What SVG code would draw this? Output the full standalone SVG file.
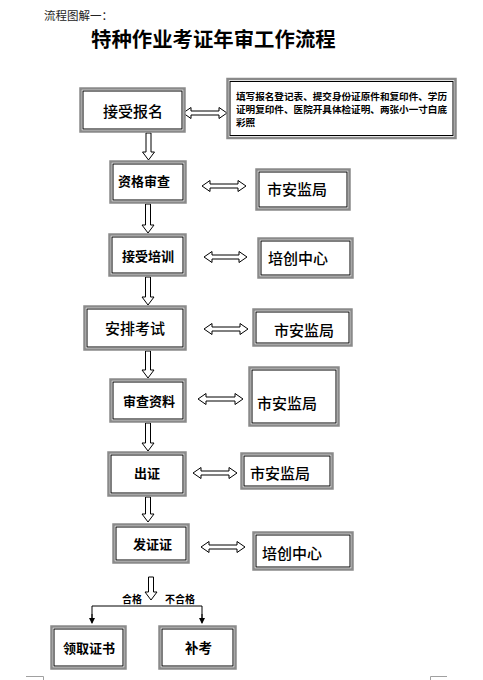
<svg xmlns="http://www.w3.org/2000/svg" width="483" height="680" viewBox="0 0 483 680">
<style>
text{font-family:"Noto Sans CJK SC","Noto Sans",sans-serif;fill:#000;dominant-baseline:central}
.b{font-weight:700;font-size:13px}
.n{font-size:15px;font-weight:500}
.box .o{fill:#fff;stroke:#8a8a8a;stroke-width:2.5}
.box .i{fill:none;stroke:#000;stroke-width:1}
.arr{fill:#fff;stroke:#000;stroke-width:1;stroke-linejoin:miter}
.ln{fill:none;stroke:#000;stroke-width:1}
.mark{fill:none;stroke:#a0a0a0;stroke-width:1}
</style>
<defs>
<marker id="ah" viewBox="0 0 6 6" refX="5" refY="3" markerWidth="6" markerHeight="6" orient="auto" markerUnits="userSpaceOnUse">
<path d="M0,0 L6,3 L0,6 Z" fill="#000"/>
</marker>
</defs>

<text x="44" y="15" style="font-size:11.5px;fill:#222">流程图解一：</text>
<text x="91" y="38" style="font-size:20.4px;font-weight:700">特种作业考证年审工作流程</text>

<g id="connectors">
<polygon class="arr" points="146,133 151,133 151,152 154.5,152 148.5,160 142.5,152 146,152"/>
<polygon class="arr" points="145.5,204 150.5,204 150.5,225 154,225 148,233 142,225 145.5,225"/>
<polygon class="arr" points="145.5,277 150.5,277 150.5,297 154,297 148,305 142,297 145.5,297"/>
<polygon class="arr" points="145.5,351 150.5,351 150.5,370 154,370 148,378 142,370 145.5,370"/>
<polygon class="arr" points="145.5,423 150.5,423 150.5,443 154,443 148,451 142,443 145.5,443"/>
<polygon class="arr" points="145.5,497 150.5,497 150.5,514 154,514 148,522 142,514 145.5,514"/>
<polygon class="arr" points="148.5,577 153.5,577 153.5,592 157,592 151,600 145,592 148.5,592"/>

<polygon class="arr" points="183,113 191,107.5 191,111 219,111 219,107.5 227,113 219,118.5 219,115 191,115 191,118.5"/>
<polygon class="arr" points="202,186 210,180.5 210,184 238,184 238,180.5 246,186 238,191.5 238,188 210,188 210,191.5"/>
<polygon class="arr" points="204,257 212,251.5 212,255 239,255 239,251.5 247,257 239,262.5 239,259 212,259 212,262.5"/>
<polygon class="arr" points="204,329 212,323.5 212,327 240,327 240,323.5 248,329 240,334.5 240,331 212,331 212,334.5"/>
<polygon class="arr" points="198,399 206,393.5 206,397 235,397 235,393.5 243,399 235,404.5 235,401 206,401 206,404.5"/>
<polygon class="arr" points="193,473 201,467.5 201,471 229,471 229,467.5 237,473 229,478.5 229,475 201,475 201,478.5"/>
<polygon class="arr" points="201,547 209,541.5 209,545 237,545 237,541.5 245,547 237,552.5 237,549 209,549 209,552.5"/>

<path class="ln" d="M92,622 V606 H202 V622"/>
<path class="ln" d="M92,614 V623" marker-end="url(#ah)"/>
<path class="ln" d="M202,614 V623" marker-end="url(#ah)"/>
</g>

<g id="n1" class="box"><rect class="o" x="80.5" y="88.5" width="104" height="43"/><rect class="i" x="83" y="91" width="99" height="38"/><text class="n" x="103" y="110">接受报名</text></g>
<g id="info" class="box"><rect class="o" x="227.5" y="79" width="228" height="59"/><rect class="i" x="230" y="81.5" width="223" height="54"/>
<text x="236" y="96" style="font-size:9.6px;font-weight:700">填写报名登记表、提交身份证原件和复印件、学历</text>
<text x="236" y="109" style="font-size:9.6px;font-weight:700">证明复印件、医院开具体检证明、两张小一寸白底</text>
<text x="236" y="122" style="font-size:9.6px;font-weight:700">彩照</text></g>

<g id="n2" class="box"><rect class="o" x="110.5" y="161.5" width="75" height="41"/><rect class="i" x="113" y="164" width="70" height="36"/><text class="b" x="118" y="180">资格审查</text></g>
<g id="r2" class="box"><rect class="o" x="256.5" y="169.5" width="93" height="40"/><rect class="i" x="259" y="172" width="88" height="35"/><text class="n" x="267" y="188">市安监局</text></g>

<g id="n3" class="box"><rect class="o" x="109.5" y="234.5" width="76" height="41"/><rect class="i" x="112" y="237" width="71" height="36"/><text class="b" x="122" y="255">接受培训</text></g>
<g id="r3" class="box"><rect class="o" x="258.5" y="238.5" width="94" height="39"/><rect class="i" x="261" y="241" width="89" height="34"/><text class="n" x="268" y="257">培创中心</text></g>

<g id="n4" class="box"><rect class="o" x="84.5" y="306.5" width="101" height="43"/><rect class="i" x="87" y="309" width="96" height="38"/><text class="n" x="105" y="327">安排考试</text></g>
<g id="r4" class="box"><rect class="o" x="253.5" y="309.5" width="98" height="36"/><rect class="i" x="256" y="312" width="93" height="31"/><text class="n" x="274" y="329">市安监局</text></g>

<g id="n5" class="box"><rect class="o" x="110.5" y="379.5" width="75" height="42"/><rect class="i" x="113" y="382" width="70" height="37"/><text class="b" x="123" y="400">审查资料</text></g>
<g id="r5" class="box"><rect class="o" x="249.5" y="367.5" width="89" height="58"/><rect class="i" x="252" y="370" width="84" height="53"/><text class="n" x="257" y="402">市安监局</text></g>

<g id="n6" class="box"><rect class="o" x="108.5" y="452.5" width="77" height="43"/><rect class="i" x="111" y="455" width="72" height="38"/><text class="b" x="134" y="472">出证</text></g>
<g id="r6" class="box"><rect class="o" x="241.5" y="453.5" width="91" height="35"/><rect class="i" x="244" y="456" width="86" height="30"/><text class="n" x="250" y="472">市安监局</text></g>

<g id="n7" class="box"><rect class="o" x="113.5" y="524.5" width="75" height="38"/><rect class="i" x="116" y="527" width="70" height="33"/><text class="b" x="133" y="543">发证证</text></g>
<g id="r7" class="box"><rect class="o" x="253.5" y="532.5" width="99" height="37"/><rect class="i" x="256" y="535" width="94" height="32"/><text class="n" x="262" y="552">培创中心</text></g>

<text x="122" y="598" style="font-size:10px;font-weight:700">合格</text>
<text x="165" y="598" style="font-size:10px;font-weight:700">不合格</text>

<g id="n8" class="box"><rect class="o" x="51.5" y="626.5" width="74" height="42"/><rect class="i" x="54" y="629" width="69" height="37"/><text class="b" x="63" y="647">领取证书</text></g>
<g id="n9" class="box"><rect class="o" x="159.5" y="626.5" width="76" height="42"/><rect class="i" x="162" y="629" width="71" height="37"/><text class="b" x="185" y="647" style="font-size:13.5px">补考</text></g>

<path class="mark" d="M26,676.5 H43.5 V680"/>
<path class="mark" d="M447,676.5 H430.5 V680"/>
</svg>
